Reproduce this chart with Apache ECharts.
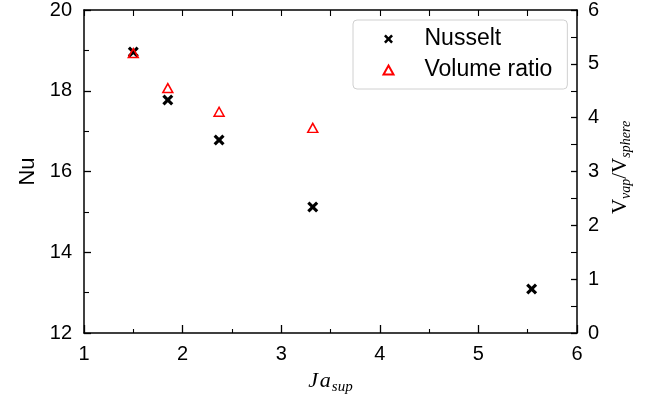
<!DOCTYPE html>
<html>
<head>
<meta charset="utf-8">
<script src="https://cdn.jsdelivr.net/npm/echarts@6/dist/echarts.min.js"></script>
<style>html,body{margin:0;padding:0;background:#fff}#c{width:654px;height:399px}</style>
</head>
<body>
<div id="c"></div>
<script>
// Data
const jaNusselt = [1.5, 1.85, 2.37, 3.32, 5.54];
const nusselt = [18.96, 17.77, 16.78, 15.12, 13.09];
const jaVolume = [1.5, 1.85, 2.37, 3.32];
const volumeRatio = [5.2, 4.55, 4.11, 3.81];
const seriesNames = ['Nusselt', 'Volume ratio'];

const crossPath = 'path://M0,2 L2,0 L5,3 L8,0 L10,2 L7,5 L10,8 L8,10 L5,7 L2,10 L0,8 L3,5 Z';
const tickFont = "'Liberation Sans',sans-serif";
const serif = "'Liberation Serif','DejaVu Serif',serif";

const chart = echarts.init(document.getElementById('c'), null, {renderer: 'canvas'});
const axisLineStyle = {color: '#000', width: 1.5};

chart.setOption({
  animation: false,
  backgroundColor: '#fff',
  grid: {left: 84, right: 77, top: 10, bottom: 66, containLabel: false, outerBoundsMode: 'none'},
  legend: {
    data: seriesNames,
    orient: 'vertical',
    left: 353, top: 20,
    padding: [7, 15, 7, 28],
    itemGap: 7,
    itemWidth: 10, itemHeight: 9,
    backgroundColor: 'rgba(255,255,255,0.8)',
    borderColor: '#d0d0d0', borderWidth: 1, borderRadius: 4,
    textStyle: {fontFamily: "'Liberation Sans',sans-serif", fontSize: 23, color: '#000', lineHeight: 24, padding: [0, 0, 0, 26]}
  },
  xAxis: [{
    type: 'value', min: 1, max: 6, interval: 1, position: 'bottom',
    name: '{i|J}{g| }{i|a}{s|sup}', nameLocation: 'middle', nameGap: 35,
    nameTextStyle: {rich: {
      i: {fontFamily: serif, fontStyle: 'italic', fontSize: 22, color: '#000'},
      g: {fontSize: 6},
      s: {fontFamily: serif, fontStyle: 'italic', fontSize: 15, color: '#000', padding: [12, 0, 0, 1]}
    }},
    axisLine: {show: true, onZero: false, lineStyle: axisLineStyle},
    axisTick: {show: true, inside: true, length: 8, lineStyle: {color: '#000', width: 1.3}},
    minorTick: {show: true, splitNumber: 2, length: 4, lineStyle: {color: '#000', width: 1.1}},
    axisLabel: {fontFamily: tickFont, fontSize: 20, color: '#000', margin: 11},
    splitLine: {show: false}
  }, {
    type: 'value', min: 1, max: 6, interval: 0.5, position: 'top',
    axisLine: {show: true, onZero: false, lineStyle: axisLineStyle},
    axisTick: {show: true, inside: true, length: 6, lineStyle: {color: '#000', width: 1.1}},
    axisLabel: {show: false},
    splitLine: {show: false}
  }],
  yAxis: [{
    type: 'value', min: 12, max: 20, interval: 2, position: 'left',
    name: 'Nu', nameLocation: 'middle', nameGap: 44, nameRotate: 90,
    nameTextStyle: {fontFamily: "'Liberation Sans',sans-serif", fontSize: 22, color: '#000'},
    axisLine: {show: true, onZero: false, lineStyle: axisLineStyle},
    axisTick: {show: true, inside: true, length: 7, lineStyle: {color: '#000', width: 1.3}},
    minorTick: {show: true, splitNumber: 2, length: 5, lineStyle: {color: '#000', width: 1.1}},
    axisLabel: {fontFamily: tickFont, fontSize: 20, color: '#000', margin: 12},
    splitLine: {show: false}
  }, {
    type: 'value', min: 0, max: 6, interval: 1, position: 'right',
    name: '{v|V}{s|vap}{v|/V}{s|sphere}', nameLocation: 'middle', nameGap: 31, nameRotate: 90,
    nameTextStyle: {padding: [0, 0, 0, 8], rich: {
      v: {fontFamily: serif, fontSize: 21, color: '#000'},
      s: {fontFamily: serif, fontStyle: 'italic', fontSize: 14, color: '#000', padding: [11, 0, 0, 0]}
    }},
    axisLine: {show: true, onZero: false, lineStyle: axisLineStyle},
    axisTick: {show: true, inside: true, length: 6, lineStyle: {color: '#000', width: 1.3}},
    minorTick: {show: true, splitNumber: 2, length: 6, lineStyle: {color: '#000', width: 1.1}},
    axisLabel: {fontFamily: tickFont, fontSize: 20, color: '#000', margin: 11},
    splitLine: {show: false}
  }],
  series: [{
    name: seriesNames[0], type: 'scatter', xAxisIndex: 0, yAxisIndex: 0,
    symbol: crossPath, symbolSize: 11,
    itemStyle: {color: '#000', opacity: 1},
    data: jaNusselt.map((x, i) => [x, nusselt[i]]),
    z: 2
  }, {
    name: seriesNames[1], type: 'scatter', xAxisIndex: 0, yAxisIndex: 1,
    symbol: 'triangle', symbolSize: [10, 9],
    itemStyle: {color: 'none', borderColor: '#ff0000', borderWidth: 1.5, opacity: 1},
    data: jaVolume.map((x, i) => [x, volumeRatio[i]]),
    z: 3
  }]
});
</script>
</body>
</html>
